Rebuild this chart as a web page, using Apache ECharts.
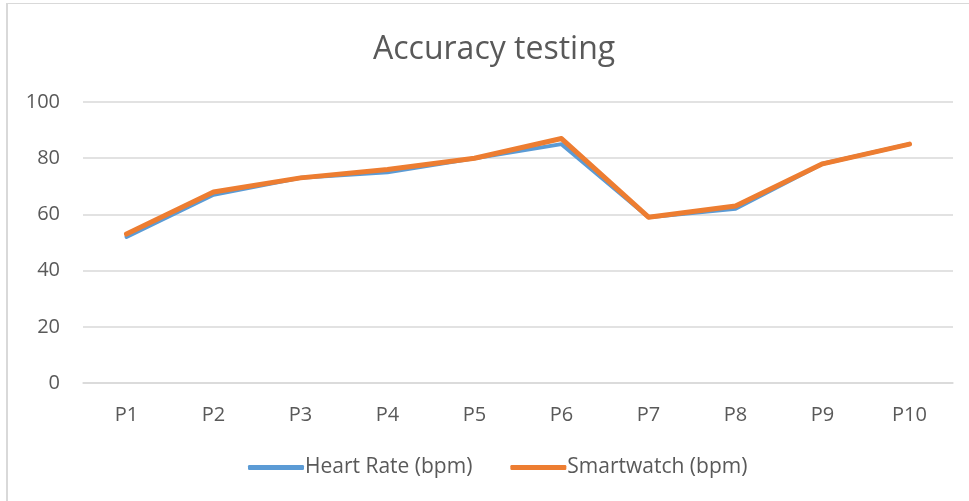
<!DOCTYPE html>
<html>
<head>
<meta charset="utf-8">
<script src="https://cdn.jsdelivr.net/npm/echarts@6/dist/echarts.min.js"></script>
<style>
  html, body { margin: 0; padding: 0; background: #fff; overflow: hidden; }
  #chart { position: absolute; left: 6px; top: 3px; width: 963px; height: 498px; border-left: 2px solid #d9d9d9; border-top: 1px solid #d9d9d9; }
</style>
</head>
<body>
<div id="chart"></div>
<script>
// chart data
const categories = ['P1', 'P2', 'P3', 'P4', 'P5', 'P6', 'P7', 'P8', 'P9', 'P10'];
const heartRate = [52, 67, 73, 75, 80, 85, 59, 62, 78, 85];
const smartwatch = [53, 68, 73, 76, 80, 87, 59, 63, 78, 85];
const yTicks = { min: 0, max: 100, interval: 20 };

const textColor = '#595959';
const fontFamily = 'Open Sans, Liberation Sans, sans-serif';

const chart = echarts.init(document.getElementById('chart'));
chart.setOption({
    animation: false,
    title: {
        text: 'Accuracy testing',
        left: 360,
        top: 25,
        textStyle: { fontSize: 32, fontWeight: 'normal', color: textColor, fontFamily: fontFamily }
    },
    legend: {
        bottom: 19,
        left: 235,
        icon: 'roundRect',
        itemWidth: 56,
        itemHeight: 5,
        itemGap: 38,
        textStyle: { fontSize: 21, color: textColor, fontFamily: fontFamily, padding: [0, 0, 0, -4] },
        data: ['Heart Rate (bpm)', 'Smartwatch (bpm)']
    },
    grid: { left: 75, right: 18, top: 98, bottom: 119 },
    xAxis: {
        type: 'category',
        data: categories,
        axisTick: { show: false },
        axisLine: { lineStyle: { color: '#d9d9d9', width: 1.5 } },
        axisLabel: { color: textColor, fontSize: 20, fontFamily: fontFamily, margin: 22 }
    },
    yAxis: {
        type: 'value',
        min: yTicks.min,
        max: yTicks.max,
        interval: yTicks.interval,
        axisLine: { show: false },
        axisTick: { show: false },
        axisLabel: { color: textColor, fontSize: 20, fontFamily: fontFamily, margin: 23 },
        splitLine: { lineStyle: { color: '#d9d9d9', width: 1.5 } }
    },
    series: [
        {
            name: 'Heart Rate (bpm)',
            type: 'line',
            data: heartRate,
            symbol: 'none',
            itemStyle: { color: '#5b9bd5' },
            lineStyle: { color: '#5b9bd5', width: 4, cap: 'round', join: 'round' }
        },
        {
            name: 'Smartwatch (bpm)',
            type: 'line',
            data: smartwatch,
            symbol: 'none',
            itemStyle: { color: '#ed7d31' },
            lineStyle: { color: '#ed7d31', width: 5, cap: 'round', join: 'round' }
        }
    ]
});
</script>
</body>
</html>
